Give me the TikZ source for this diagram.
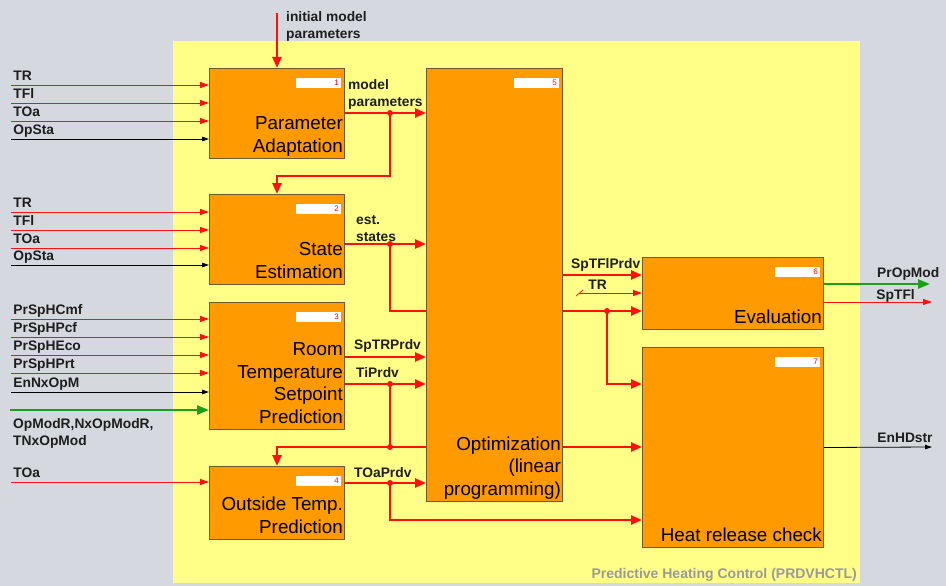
\documentclass[tikz,border=0pt]{standalone}
\usepackage{fontspec}
\setmainfont{Liberation Sans}
\usepackage{xcolor}
\usepackage{tikz}
\usetikzlibrary{arrows.meta, positioning}
\definecolor{bggray}{HTML}{D5D8DF}
\definecolor{areayellow}{HTML}{FFFF88}
\definecolor{boxorange}{HTML}{FF9A00}
\definecolor{boxedge}{HTML}{6E5A2C}
\definecolor{sigred}{HTML}{FF1010}
\definecolor{siggreen}{HTML}{1CA01C}
\definecolor{txtdark}{HTML}{1E1E1E}
\definecolor{footgray}{HTML}{9A9A9A}

\begin{document}
\begin{tikzpicture}[
    x=1pt, y=-1pt,
    font=\fontsize{13.8}{17}\selectfont\bfseries,
    block/.style={rectangle, draw=boxedge, line width=1pt, fill=boxorange,
                  anchor=north west, inner sep=0pt},
    title/.style={anchor=south east, align=right, inner xsep=2pt, inner ysep=0pt,
                  text=black, font=\fontsize{18.8}{22.5}\selectfont\mdseries},
    tag/.style={anchor=north east, fill=white, text=red, text width=41pt, align=right,
                inner xsep=2pt, inner ysep=0pt, minimum height=10pt,
                font=\fontsize{8}{8}\selectfont\mdseries},
    bus/.style={line width=2.4pt, draw=sigred, -{Triangle[length=11pt, width=9pt]}},
    busline/.style={line width=2.4pt, draw=sigred},
    sig/.style={line width=0.9pt, draw=sigred, -{Triangle[length=9pt, width=6pt]}},
    ctl/.style={line width=0.8pt, draw=black, -{Triangle[length=7pt, width=4.5pt]}},
    mode/.style={line width=2.4pt, draw=siggreen, -{Triangle[length=12pt, width=9pt]}},
    tap/.style={circle, fill=sigred, inner sep=0pt, minimum size=6pt},
    inlbl/.style={anchor=base west, inner sep=0pt, xshift=2pt, yshift=4.5pt, text=txtdark},
    outlbl/.style={anchor=base west, inner sep=0pt, text=txtdark},
    multilbl/.style={anchor=north west, align=left, inner sep=0pt, text=txtdark}
  ]
    \useasboundingbox (0,0) rectangle (946,586);
    \fill[bggray] (0,0) rectangle (946,586);
    \fill[areayellow] (173,41) rectangle (860,583);

    \node[block, minimum width=135pt, minimum height=90pt]  (pa)  at (209,68)  {};
    \node[block, minimum width=135pt, minimum height=90pt]  (se)  at (209,194) {};
    \node[block, minimum width=135pt, minimum height=127pt] (rt)  at (209,302) {};
    \node[block, minimum width=135pt, minimum height=73pt]  (ot)  at (209,466) {};
    \node[block, minimum width=136pt, minimum height=433pt] (opt) at (426,68)  {};
    \node[block, minimum width=181pt, minimum height=72pt]  (ev)  at (642,257) {};
    \node[block, minimum width=181pt, minimum height=200pt] (hr)  at (642,347) {};

    \node[title] (pa-title)  at (pa.south east)  {Parameter\\Adaptation\strut};
    \node[title] (se-title)  at (se.south east)  {State\\Estimation\strut};
    \node[title] (rt-title)  at (rt.south east)  {Room\\Temperature\\Setpoint\\Prediction\strut};
    \node[title] (ot-title)  at (ot.south east)  {Outside Temp.\\Prediction\strut};
    \node[title] (opt-title) at (opt.south east) {Optimization\\(linear\\programming)\strut};
    \node[title] (ev-title)  at (ev.south east)  {Evaluation\strut};
    \node[title] (hr-title)  at (hr.south east)  {Heat release check\strut};

    \node[tag] (pa-tag)  at ([shift={(-4,10)}]pa.north east)  {1};
    \node[tag] (se-tag)  at ([shift={(-4,10)}]se.north east)  {2};
    \node[tag] (rt-tag)  at ([shift={(-4,10)}]rt.north east)  {3};
    \node[tag] (ot-tag)  at ([shift={(-4,10)}]ot.north east)  {4};
    \node[tag] (opt-tag) at ([shift={(-4,10)}]opt.north east) {5};
    \node[tag] (ev-tag)  at ([shift={(-4,10)}]ev.north east)  {6};
    \node[tag] (hr-tag)  at ([shift={(-4,10)}]hr.north east)  {7};

    \foreach \y/\txt/\kind in {85/TR/sig, 103/TFl/sig, 121/TOa/sig, 139/OpSta/ctl} {
      \coordinate (in) at (11,\y);
      \draw[\kind] (in) node[inlbl] {\txt} -- (in -| pa.west);
    }
    \foreach \y/\txt/\kind in {212/TR/sig, 230/TFl/sig, 248/TOa/sig, 265/OpSta/ctl} {
      \coordinate (in) at (11,\y);
      \draw[\kind] (in) node[inlbl] {\txt} -- (in -| se.west);
    }
    \foreach \y/\txt/\kind in {319/PrSpHCmf/sig, 337/PrSpHPcf/sig, 355/PrSpHEco/sig,
                               373/PrSpHPrt/sig, 392/EnNxOpM/ctl} {
      \coordinate (in) at (11,\y);
      \draw[\kind] (in) node[inlbl] {\txt} -- (in -| rt.west);
    }
    \coordinate (modein) at (10,410);
    \draw[mode] (modein) -- (modein -| rt.west);
    \node[multilbl] (modelbl) at (13,418) {OpModR,NxOpModR,\\TNxOpMod};
    \coordinate (toain) at (11,482);
    \draw[sig] (toain) node[inlbl] {TOa} -- (toain -| ot.west);

    \coordinate (init) at (277,13);
    \draw[bus] (init) -- (init |- pa.north);
    \node[multilbl] (initlbl) at (286,11) {initial model\\parameters};

    \coordinate (t1)  at (390,113);
    \coordinate (t2)  at (390,244);
    \coordinate (t3)  at (390,384);
    \coordinate (t3b) at (390,447);
    \coordinate (t4)  at (390,483);
    \coordinate (t5)  at (607,311);
    \coordinate (sptr) at (400,357);
    \coordinate (sptfl) at (600,275);
    \coordinate (trev) at (579,293);

    \draw[bus] (t1 -| pa.east) -- (t1 -| opt.west);
    \node[multilbl] (mplbl) at (348,79) {model\\parameters};
    \draw[bus] (t1) |- ([yshift=18pt]se.north) -- (se.north);

    \draw[bus] (t2 -| se.east) -- (t2 -| opt.west);
    \node[multilbl] (eslbl) at (356,215) {est.\\states};
    \draw[busline] (t2) |- (opt.west |- t5);
    \draw[bus] (opt.east |- t5) -- (t5 -| ev.west);
    \draw[bus] (t5) |- ([yshift=-37pt]hr.north west);

    \draw[bus] (sptr -| rt.east) -- (sptr -| opt.west)
      node[pos=0, outlbl, xshift=8pt, yshift=8pt] {SpTRPrdv};
    \draw[bus] (t3 -| rt.east) -- (t3 -| opt.west)
      node[pos=0, outlbl, xshift=10pt, yshift=7pt] {TiPrdv};
    \draw[busline] (t3) -- (t3b);
    \draw[busline] (t3b) -- (t3b -| opt.west);
    \draw[bus] (t3b) -| (ot.north);
    \draw[bus] (opt.east |- t3b) -- (t3b -| hr.west);

    \draw[bus] (t4 -| ot.east) -- (t4 -| opt.west)
      node[pos=0, outlbl, xshift=8pt, yshift=6pt] {TOaPrdv};
    \draw[bus] (t4) |- ([yshift=28pt]hr.south west);

    \draw[bus] (sptfl -| opt.east) -- (sptfl -| ev.west)
      node[pos=0, outlbl, xshift=7pt, yshift=7pt] {SpTFlPrdv};
    \draw[sig] (trev) -- (trev -| ev.west)
      node[pos=0, outlbl, xshift=9pt, yshift=4pt] {TR};
    \draw[sigred, line width=0.7pt] ([shift={(-3,3)}]trev) -- ([shift={(4,-3)}]trev);

    \foreach \t in {t1, t2, t3, t3b, t4, t5}
      \node[tap] (\t-dot) at (\t) {};

    \coordinate (propout) at (930,284);
    \coordinate (sptflout) at (932,302);
    \coordinate (enhdout) at (932,447);
    \draw[mode] (propout -| ev.east) -- (propout)
      node[pos=0, outlbl, xshift=52pt, yshift=7pt] {PrOpMod};
    \draw[sig] (sptflout -| ev.east) -- (sptflout)
      node[pos=0, outlbl, xshift=52pt, yshift=3pt] {SpTFl};
    \draw[ctl] (hr.east) -- (enhdout)
      node[pos=0, outlbl, xshift=53pt, yshift=5pt] {EnHDstr};

    \node[anchor=base east, inner sep=0pt, text=footgray, font=\fontsize{14}{16}\selectfont\bfseries]
      (footer) at (857,578) {Predictive Heating Control (PRDVHCTL)};
\end{tikzpicture}
\end{document}
